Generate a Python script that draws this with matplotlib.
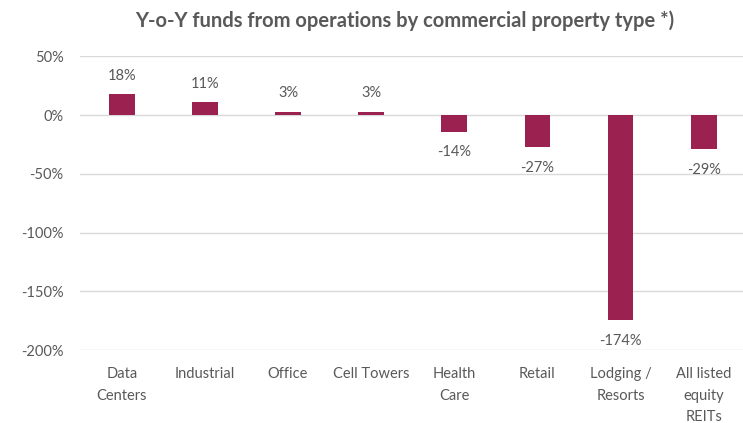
import matplotlib.pyplot as plt
from matplotlib.ticker import FuncFormatter

## Data
## ==========================================
categories = ['Data\nCenters', 'Industrial', 'Office', 'Cell Towers', 'Health\nCare',
              'Retail', 'Lodging /\nResorts', 'All listed\nequity\nREITs']
ffo_change = [18, 11, 3, 3, -14, -27, -174, -29]
yticks     = [50, 0, -50, -100, -150, -200]

barcol  = '#9B2150'
textcol = '#595959'
gridcol = '#D9D9D9'

plt.rcParams['font.family'] = ['Lato', 'DejaVu Sans']

fig = plt.figure(figsize=(7.43, 4.23), dpi=100)
ax  = fig.add_axes([0.108, 0.172, 0.895, 0.695])

x    = range(len(categories))
bars = ax.bar(x, ffo_change, width=0.31, color=barcol, zorder=3)

for xi, v in zip(x, ffo_change):
    if v >= 0:
        ax.annotate('%d%%' % v, (xi, v), xytext=(0, 8), textcoords='offset points',
                    ha='center', va='bottom', fontsize=10.5, color=textcol)
    else:
        ax.annotate('%d%%' % v, (xi, v), xytext=(0, -10), textcoords='offset points',
                    ha='center', va='top', fontsize=10.5, color=textcol)

ax.set_ylim(-200, 50)
ax.set_xlim(-0.5, len(categories) - 0.5)
ax.set_yticks(yticks)
ax.yaxis.set_major_formatter(FuncFormatter(lambda v, p: '%d%%' % v))
ax.yaxis.grid(True, color=gridcol, linewidth=1, zorder=0)
ax.set_xticks(list(x))
ax.set_xticklabels(categories, linespacing=1.7, va='top')
ax.tick_params(axis='both', length=0, labelsize=10.5, labelcolor=textcol)
ax.tick_params(axis='x', pad=12)
ax.tick_params(axis='y', pad=12)
for s in ax.spines.values():
    s.set_visible(False)

fig.text(0.545, 0.952, 'Y-o-Y funds from operations by commercial property type *)',
         ha='center', va='center', fontsize=14.5, fontweight='bold', color=textcol)

fig.savefig('out.png', dpi=100)
